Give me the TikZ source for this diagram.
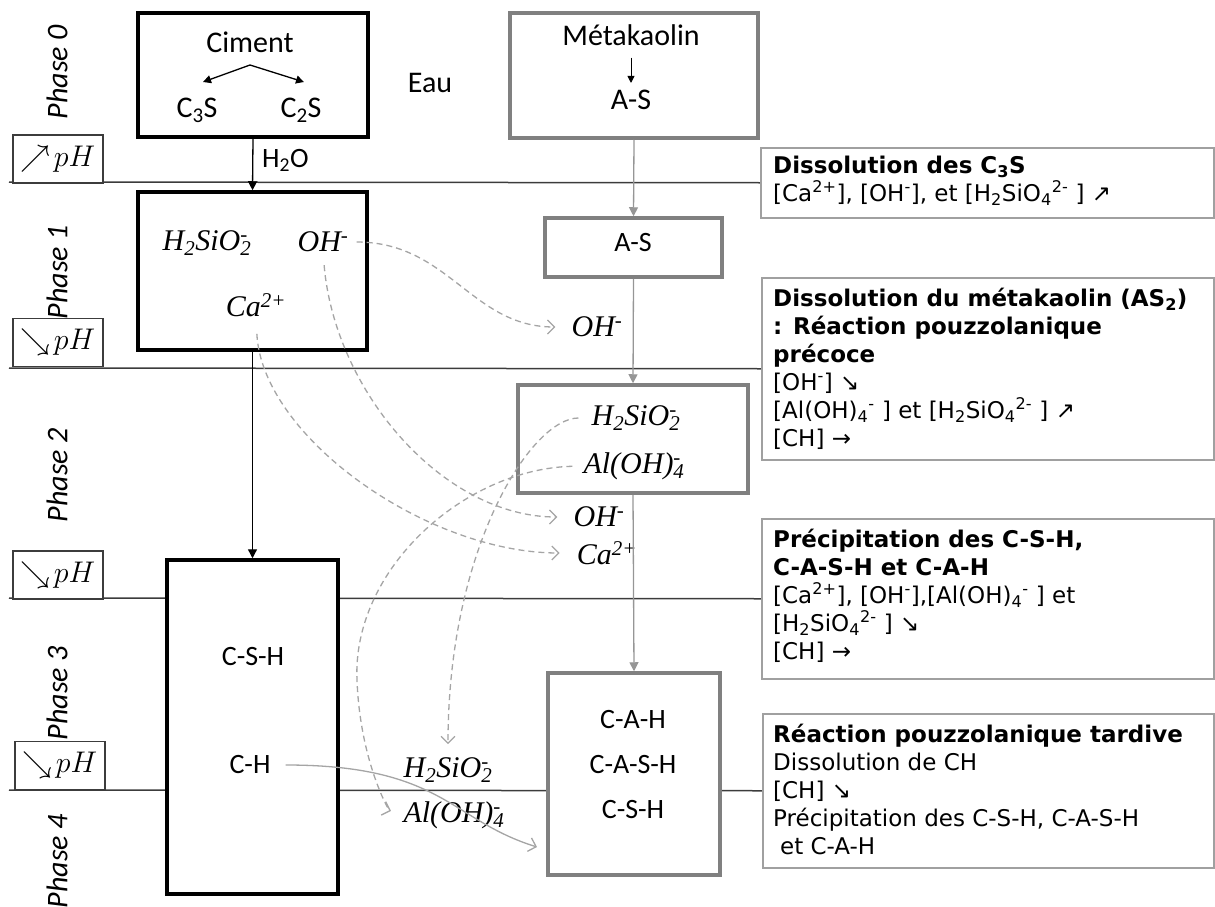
\documentclass[tikz,border=0pt]{standalone}
\usepackage{fontspec}
\setmainfont{Carlito}
\newfontfamily\dvfont{DejaVu Sans}
\newfontfamily\tmsfont{Liberation Serif}
\usetikzlibrary{arrows.meta}
\pgfdeclarelayer{background}
\pgfsetlayers{background,main}
\definecolor{linegray}{RGB}{60,60,60}
\definecolor{mkgray}{RGB}{128,128,128}
\definecolor{arrgray}{RGB}{150,150,150}
\definecolor{dashgray}{RGB}{165,165,165}
\definecolor{tboxgray}{RGB}{160,160,160}
\newcommand\ssp[2]{\begingroup\setbox0=\hbox{\textsubscript{#1}}\setbox2=\hbox{\textsuperscript{#2}}\ifdim\wd0>\wd2 \rlap{\box2}\box0\else\rlap{\box0}\box2\fi\endgroup}
\newcommand\sbsp[2]{\textsubscript{#1}\textsuperscript{#2}}
\newcommand\phup{\scalebox{1.2}{$\nearrow\!pH$}}
\newcommand\phdown{\scalebox{1.2}{$\searrow\!pH$}}
\begin{document}
\begin{tikzpicture}[x=1pt,y=-1pt,
  bbox/.style={draw=black, line width=3.5pt, fill=white, inner sep=0pt},
  gbox/.style={draw=mkgray, line width=3.5pt, fill=white, inner sep=0pt},
  tbox/.style={draw=tboxgray, line width=1.5pt, fill=white, inner sep=0pt, anchor=north west},
  phbox/.style={draw=linegray, line width=1.5pt, fill=white, minimum width=90, minimum height=48, inner sep=0pt, font=\fontsize{24.88}{26}\selectfont},
  hline/.style={draw=linegray, line width=1.5pt},
  big/.style={font=\fontsize{30}{32}\selectfont, inner sep=0pt},
  mid/.style={font=\fontsize{28}{30}\selectfont, inner sep=0pt},
  ion/.style={font=\tmsfont\itshape\fontsize{30}{32}\selectfont, inner sep=0pt},
  phase/.style={rotate=90, font=\itshape\fontsize{30}{32}\selectfont, inner sep=0pt},
  ttext/.style={font=\dvfont\fontsize{23}{28}\selectfont, align=left, inner sep=0pt, anchor=north west},
  blk/.style={draw=black, line width=1.3pt, -{Triangle[length=9pt,width=9pt]}},
  gry/.style={draw=arrgray, line width=1.3pt, -{Triangle[length=9pt,width=9pt]}},
  dsh/.style={draw=dashgray, line width=1.3pt, dash pattern=on 6pt off 4pt, -{Straight Barb[length=7pt,width=14pt]}},
  sol/.style={draw=dashgray, line width=1.3pt, -{Straight Barb[length=7pt,width=14pt]}}
]
\useasboundingbox (0,0) rectangle (1215,907);

% right text boxes
\node[tbox, minimum width=453, minimum height=70] (tA) at (760,147) {};
\node[tbox, minimum width=452, minimum height=182] (tB) at (761,277) {};
\node[tbox, minimum width=452, minimum height=160] (tC) at (761,518) {};
\node[tbox, minimum width=451, minimum height=154] (tD) at (762,713) {};

\node[ttext] (tAt) at (773,156) {{\bfseries Dissolution des C\textsubscript{3}S}\\{}[Ca\textsuperscript{2+}], [OH\textsuperscript{-}], et [H\textsubscript{2}SiO\sbsp{4}{2-} ] ↗};
\node[ttext] (tBt) at (773,288) {{\bfseries Dissolution du métakaolin (AS\textsubscript{2})}\\{\bfseries : Réaction pouzzolanique}\\{\bfseries précoce}\\{}[OH\textsuperscript{-}] ↘\\{}[Al(OH)\sbsp{4}{-} ] et [H\textsubscript{2}SiO\sbsp{4}{2-} ] ↗\\{}[CH] →};
\node[ttext] (tCt) at (773,529) {{\bfseries Précipitation des C-S-H,}\\{\bfseries C-A-S-H et C-A-H}\\{}[Ca\textsuperscript{2+}], [OH\textsuperscript{-}],[Al(OH)\sbsp{4}{-} ] et\\{}[H\textsubscript{2}SiO\sbsp{4}{2-} ] ↘\\{}[CH] →};
\node[ttext] (tDt) at (773,724) {{\bfseries Réaction pouzzolanique tardive}\\Dissolution de CH\\{}[CH] ↘\\Précipitation des C-S-H, C-A-S-H\\\hspace*{0.3em}et C-A-H};

% horizontal phase lines
\coordinate (l1) at (9,182);
\coordinate (l2) at (9,368);
\coordinate (l3) at (9,598);
\coordinate (l4) at (9,790);
\begin{pgfonlayer}{background}
\draw[hline] (l1) -- (tA.west);
\draw[hline] (l2) -- (tB.west);
\draw[hline] (l3) -- (tC.west);
\draw[hline] (l4) -- (tD.west);
\end{pgfonlayer}

% pH boxes
\node[phbox] (ph1) at (58,159) {\phup};
\node[phbox] (ph2) at (58,342.5) {\phdown};
\node[phbox] (ph3) at (58,575) {\phdown};
\node[phbox] (ph4) at (60,765.5) {\phdown};

% phase labels
\node[phase] (ph0l) at (57,72) {Phase 0};
\node[phase] (ph1l) at (57,272) {Phase 1};
\node[phase] (ph2l) at (57,475) {Phase 2};
\node[phase] (ph3l) at (57,693) {Phase 3};
\node[phase] (ph4l) at (57,861) {Phase 4};

% cement column
\node[bbox, minimum width=230, minimum height=124] (cim) at (253,75) {};
\node[big] (ciment) at (250,42) {Ciment};
\node[big] (c3s) at (197,110) {C\textsubscript{3}S};
\node[big] (c2s) at (301,110) {C\textsubscript{2}S};
\coordinate (split) at (250,65);
\coordinate (c3stip) at (203,82);
\coordinate (c2stip) at (304,82);
\draw[blk, -{Triangle[length=8pt,width=8pt]}] (split) -- (c3stip);
\draw[blk, -{Triangle[length=8pt,width=8pt]}] (split) -- (c2stip);

\node[big] (eau) at (430,83) {Eau};

\node[bbox, minimum width=229, minimum height=158] (p1) at (252.5,271) {};
\node[ion] (p1h2) at (207,243) {H\textsubscript{2}SiO\ssp{2}{-}};
\node[ion] (p1oh) at (323,242) {OH\textsuperscript{-}};
\node[ion] (p1ca) at (256,305) {Ca\textsuperscript{2+}};

\draw[blk] (cim.south) -- (p1.north);
\node[mid, anchor=west] (h2o) at (262,160) {H\textsubscript{2}O};

\node[bbox, minimum width=171, minimum height=334] (csh) at (252.5,727) {};
\node[mid] (cshA) at (253,657) {C-S-H};
\node[mid] (ch) at (250,765) {C-H};
\draw[blk] (p1.south) -- (csh.north);

% metakaolin column
\node[gbox, minimum width=248, minimum height=125] (mk) at (634,75.5) {};
\node[big] (mkname) at (631,35) {Métakaolin};
\node[big] (mkas) at (631,100) {A-S};
\draw[blk, line width=1pt, -{Triangle[length=7pt,width=7pt]}, shorten <=12pt, shorten >=7pt] (mkname.south) -- (mkas.north);

\node[gbox, minimum width=177, minimum height=59] (as) at (633.5,247.5) {};
\node[mid] (astxt) at (633,243) {A-S};
\draw[gry] (mk.south) -- (as.north);

\node[ion] (ohA) at (597,327) {OH\textsuperscript{-}};

\node[gbox, minimum width=230, minimum height=108] (p2) at (633,439) {};
\node[ion] (p2h2) at (636,418) {H\textsubscript{2}SiO\ssp{2}{-}};
\node[ion] (p2al) at (634,466) {Al(OH)\ssp{4}{-}};
\draw[gry] (as.south) -- (p2.north);

\node[ion] (ohB) at (599,517) {OH\textsuperscript{-}};
\node[ion] (caB) at (607,553) {Ca\textsuperscript{2+}};

\node[gbox, minimum width=172, minimum height=202] (cah) at (634,774) {};
\node[mid] (cahA) at (633,720) {C-A-H};
\node[mid] (cahB) at (633,765) {C-A-S-H};
\node[mid] (cahC) at (633,810) {C-S-H};
\draw[gry] (p2.south) -- (cah.north);

\node[ion] (bh2) at (448,770) {H\textsubscript{2}SiO\ssp{2}{-}};
\node[ion] (bal) at (454,815) {Al(OH)\ssp{4}{-}};

% dashed transfer curves
\draw[dsh, shorten <=8pt, shorten >=16pt] (p1oh.east) .. controls +(100,0) and +(-100,0) .. (ohA.west);
\draw[dsh, shorten <=13pt, shorten >=16pt] (p1oh.south) .. controls +(12,140) and +(-130,0) .. (ohB.west);
\draw[dsh, shorten <=17pt, shorten >=17pt] (p1ca.south) .. controls +(6,120) and +(-150,0) .. (caB.west);
\draw[dsh, shorten <=13pt, shorten >=13pt] (p2h2.west) .. controls +(-60,0) and +(0,-210) .. (bh2.north);
\coordinate (almid) at (357,680);
\draw[dsh, shorten <=11pt, shorten >=13pt] (p2al.west) .. controls +(-120,3) and +(-5,-110) .. (almid) .. controls +(3,80) and +(-15,-5) .. (bal.west);

% solid curve C-H -> C-A-H
\coordinate (cahin) at (537,847);
\draw[sol, shorten <=15pt] (ch.east) .. controls +(172,0) and +(-87,-27) .. (cahin);
\end{tikzpicture}
\end{document}
